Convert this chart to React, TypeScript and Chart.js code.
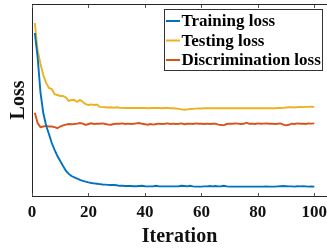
import React, { useEffect, useRef } from "react";
import { Chart, registerables } from "chart.js";

Chart.register(...registerables);

const iterations: number[] = Array.from({ length: 100 }, (_, i) => i + 1);
const xTicks: number[] = [0, 20, 40, 60, 80, 100];

const trainingLoss: number[] = [
  0.849, 0.722, 0.540, 0.432, 0.367, 0.323, 0.276, 0.240, 0.208, 0.182,
  0.156, 0.132, 0.115, 0.104, 0.097, 0.091, 0.084, 0.079, 0.075, 0.071,
  0.068, 0.066, 0.064, 0.062, 0.060, 0.059, 0.058, 0.057, 0.057, 0.056,
  0.053, 0.053, 0.052, 0.052, 0.052, 0.051, 0.051, 0.052, 0.053, 0.051,
  0.050, 0.050, 0.051, 0.053, 0.050, 0.050, 0.050, 0.050, 0.050, 0.050,
  0.050, 0.051, 0.053, 0.052, 0.050, 0.053, 0.050, 0.049, 0.049, 0.049,
  0.050, 0.050, 0.052, 0.050, 0.052, 0.050, 0.051, 0.053, 0.050, 0.049,
  0.049, 0.049, 0.049, 0.049, 0.049, 0.049, 0.049, 0.049, 0.049, 0.049,
  0.049, 0.049, 0.050, 0.049, 0.049, 0.049, 0.050, 0.051, 0.052, 0.051,
  0.050, 0.050, 0.049, 0.051, 0.050, 0.051, 0.050, 0.049, 0.050, 0.049,
];

const testingLoss: number[] = [
  0.901, 0.760, 0.688, 0.630, 0.589, 0.563, 0.557, 0.530, 0.526, 0.521,
  0.521, 0.513, 0.495, 0.500, 0.500, 0.490, 0.500, 0.490, 0.479, 0.474,
  0.477, 0.474, 0.476, 0.464, 0.463, 0.462, 0.461, 0.462, 0.460, 0.462,
  0.460, 0.459, 0.458, 0.458, 0.459, 0.458, 0.458, 0.459, 0.458, 0.458,
  0.457, 0.458, 0.458, 0.459, 0.458, 0.457, 0.458, 0.458, 0.457, 0.457,
  0.456, 0.454, 0.451, 0.449, 0.451, 0.453, 0.454, 0.455, 0.456, 0.456,
  0.457, 0.457, 0.457, 0.457, 0.457, 0.457, 0.457, 0.457, 0.457, 0.457,
  0.457, 0.457, 0.457, 0.457, 0.457, 0.457, 0.457, 0.457, 0.457, 0.457,
  0.457, 0.457, 0.457, 0.457, 0.457, 0.457, 0.458, 0.458, 0.459, 0.461,
  0.462, 0.463, 0.461, 0.463, 0.464, 0.463, 0.464, 0.464, 0.465, 0.464,
];

const discriminationLoss: number[] = [
  0.434, 0.380, 0.359, 0.362, 0.365, 0.362, 0.362, 0.359, 0.353, 0.362,
  0.368, 0.372, 0.375, 0.374, 0.375, 0.377, 0.380, 0.377, 0.370, 0.375,
  0.379, 0.375, 0.377, 0.376, 0.378, 0.375, 0.372, 0.371, 0.375, 0.377,
  0.376, 0.378, 0.375, 0.377, 0.375, 0.376, 0.378, 0.380, 0.376, 0.374,
  0.371, 0.375, 0.372, 0.375, 0.377, 0.375, 0.376, 0.378, 0.375, 0.377,
  0.375, 0.376, 0.378, 0.374, 0.376, 0.377, 0.375, 0.378, 0.376, 0.377,
  0.375, 0.377, 0.375, 0.376, 0.377, 0.372, 0.370, 0.369, 0.375, 0.377,
  0.376, 0.378, 0.377, 0.375, 0.376, 0.382, 0.376, 0.377, 0.375, 0.378,
  0.376, 0.377, 0.378, 0.376, 0.377, 0.375, 0.376, 0.378, 0.372, 0.368,
  0.371, 0.377, 0.375, 0.378, 0.376, 0.377, 0.375, 0.378, 0.377, 0.378,
];

const seriesLabels: string[] = ["Training loss", "Testing loss", "Discrimination loss"];
const seriesColors: string[] = ["#0072BD", "#EDB120", "#D95319"];

const FONT = "'Liberation Serif', 'Times New Roman', serif";

const framePlugin = {
  id: "frame",
  afterDatasetsDraw(chart: any) {
    const { ctx, chartArea: a, scales } = chart;
    ctx.save();
    ctx.strokeStyle = "#262626";
    ctx.lineWidth = 1;
    ctx.beginPath();
    ctx.moveTo(Math.round(a.left) + 0.5, Math.round(a.top));
    ctx.lineTo(Math.round(a.left) + 0.5, Math.round(a.bottom) + 1);
    ctx.moveTo(Math.round(a.left), Math.round(a.top) + 0.5);
    ctx.lineTo(a.right + 2, Math.round(a.top) + 0.5);
    ctx.moveTo(Math.round(a.left), Math.round(a.bottom) + 0.5);
    ctx.lineTo(a.right + 2, Math.round(a.bottom) + 0.5);
    ctx.stroke();
    ctx.strokeStyle = "#555555";
    ctx.beginPath();
    for (const v of xTicks) {
      const px = Math.round(scales.x.getPixelForValue(v)) + 0.5;
      ctx.moveTo(px, Math.round(a.bottom));
      ctx.lineTo(px, Math.round(a.bottom) - 3);
      ctx.moveTo(px, Math.round(a.top) + 1);
      ctx.lineTo(px, Math.round(a.top) + 4);
    }
    ctx.stroke();

    const bx = 164.5, by = 9.5, bw = 158, bh = 61;
    ctx.fillStyle = "#ffffff";
    ctx.fillRect(bx, by, bw, bh);
    ctx.strokeStyle = "#333333";
    ctx.lineWidth = 1;
    ctx.strokeRect(bx, by, bw, bh);
    ctx.font = `bold 17px ${FONT}`;
    ctx.textBaseline = "middle";
    ctx.textAlign = "left";
    chart.data.datasets.forEach((ds: any, i: number) => {
      const y = by + 11.5 + i * 19.5;
      ctx.strokeStyle = ds.borderColor;
      ctx.lineWidth = 2;
      ctx.beginPath();
      ctx.moveTo(166, y);
      ctx.lineTo(180, y);
      ctx.stroke();
      ctx.fillStyle = "#000000";
      ctx.fillText(ds.label, 181.5, y + 1);
    });
    ctx.restore();
  },
};

export default function App() {
  const ref = useRef<HTMLCanvasElement | null>(null);

  useEffect(() => {
    document.body.style.margin = "0";
    const canvas = ref.current;
    if (!canvas) return;
    const seriesData = [trainingLoss, testingLoss, discriminationLoss];
    const chart = new Chart(canvas, {
      type: "line",
      data: {
        labels: iterations,
        datasets: seriesData.map((d, i) => ({
          label: seriesLabels[i],
          data: d.map((v, j) => ({ x: iterations[j], y: v })),
          borderColor: seriesColors[i],
          backgroundColor: seriesColors[i],
          borderWidth: 1.9,
          pointRadius: 0,
          tension: 0,
          fill: false,
        })),
      },
      options: {
        responsive: false,
        animation: false,
        layout: { padding: { top: 4, left: 0, right: 0, bottom: 0 } },
        plugins: {
          legend: { display: false },
          tooltip: { enabled: false },
        },
        scales: {
          x: {
            type: "linear",
            min: 0,
            max: 104.5,
            grid: { display: false, drawTicks: false },
            border: { display: false },
            afterBuildTicks: (s: any) => {
              s.ticks = xTicks.map((v) => ({ value: v }));
            },
            afterFit: (s: any) => {
              s.height = 53;
              s.paddingLeft = 0;
              s.paddingRight = 0;
            },
            ticks: {
              maxRotation: 0,
              autoSkip: false,
              padding: 6,
              color: "#111111",
              font: { family: FONT, size: 17, weight: "bold" },
            },
            title: {
              display: true,
              text: "Iteration",
              color: "#111111",
              padding: { top: 0, bottom: 0 },
              font: { family: FONT, size: 20, weight: "bold" },
            },
          },
          y: {
            type: "linear",
            min: 0,
            max: 1,
            grid: { display: false, drawTicks: false },
            border: { display: false },
            ticks: { display: false },
            afterFit: (s: any) => {
              s.width = 32;
            },
            title: {
              display: true,
              text: "Loss",
              color: "#111111",
              padding: { top: 7, bottom: 0 },
              font: { family: FONT, size: 20, weight: "bold" },
            },
          },
        },
      },
      plugins: [framePlugin],
    });
    return () => chart.destroy();
  }, []);

  return (
    <div style={{ position: "fixed", left: 0, top: 0, width: 327, height: 249 }}>
      <canvas ref={ref} width={327} height={249} />
    </div>
  );
}
